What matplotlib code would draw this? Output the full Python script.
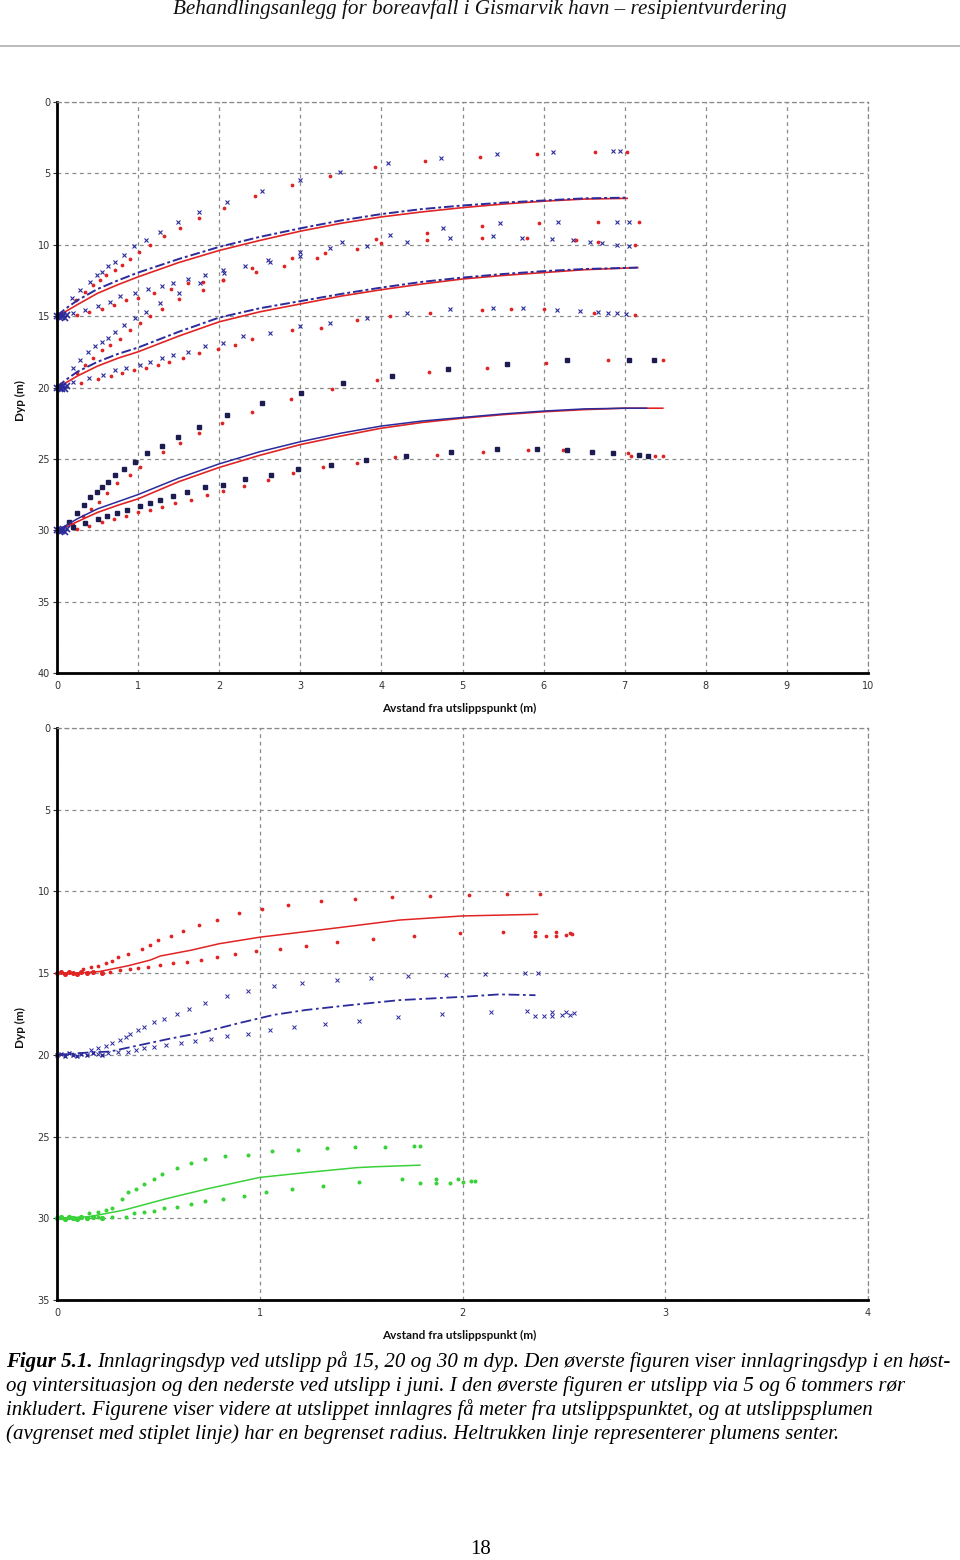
import matplotlib
matplotlib.use("Agg")
import matplotlib.pyplot as plt
from matplotlib.lines import Line2D
from matplotlib.ticker import MultipleLocator

# ---------------- data: top panel (autumn / winter), depth in m ----------------
# plume from 15 m
c15_x = [0, 0.1, 0.25, 0.5, 0.75, 1.0, 1.5, 2.0, 2.5, 3.0, 3.5, 4.0, 4.5, 5.0, 5.5, 6.0, 6.5, 7.03]
c15_blue = [15.0, 14.5, 13.9, 13.1, 12.5, 11.95, 11.0, 10.15, 9.45, 8.85, 8.3, 7.85, 7.5, 7.25, 7.05, 6.9, 6.75, 6.7]
c15_red = [15.0, 14.7, 14.2, 13.4, 12.8, 12.25, 11.25, 10.4, 9.7, 9.05, 8.5, 8.05, 7.7, 7.4, 7.15, 6.95, 6.8, 6.75]
u15_blue_x = [0.18, 0.28, 0.41, 0.49, 0.55, 0.63, 0.72, 0.83, 0.95, 1.1, 1.27, 1.49, 1.75, 2.1, 2.53, 3.0, 3.49, 4.08, 4.73, 5.43, 6.12, 6.86, 6.94]
u15_blue_d = [13.75, 13.2, 12.6, 12.1, 11.9, 11.5, 11.2, 10.7, 10.1, 9.7, 9.1, 8.4, 7.7, 7.0, 6.2, 5.46, 4.9, 4.27, 3.92, 3.64, 3.5, 3.43, 3.43]
u15_red_x = [0.24, 0.35, 0.45, 0.53, 0.61, 0.72, 0.8, 0.9, 1.01, 1.15, 1.32, 1.52, 1.75, 2.06, 2.44, 2.9, 3.37, 3.92, 4.54, 5.22, 5.92, 6.63, 7.03]
u15_red_d = [13.9, 13.3, 12.8, 12.5, 12.1, 11.8, 11.4, 11.0, 10.5, 10.0, 9.4, 8.8, 8.1, 7.4, 6.6, 5.8, 5.2, 4.55, 4.13, 3.85, 3.64, 3.5, 3.5]
l15_blue_x = [0.2, 0.35, 0.5, 0.65, 0.78, 0.96, 1.12, 1.29, 1.43, 1.62, 1.83, 2.05, 2.32, 2.6, 3.0, 3.37, 3.51, 4.1, 4.76, 5.46, 6.18, 6.9, 7.05]
l15_blue_d = [14.8, 14.6, 14.3, 14.0, 13.6, 13.4, 13.1, 12.9, 12.7, 12.4, 12.1, 11.8, 11.5, 11.1, 10.5, 10.2, 9.8, 9.3, 8.8, 8.5, 8.4, 8.4, 8.4]
l15_red_x = [0.25, 0.4, 0.55, 0.7, 0.85, 1.0, 1.2, 1.4, 1.62, 1.8, 2.05, 2.4, 2.9, 3.3, 3.93, 4.56, 5.24, 5.94, 6.67, 7.18]
l15_red_d = [14.9, 14.7, 14.5, 14.2, 13.9, 13.7, 13.4, 13.1, 12.7, 12.6, 12.5, 11.6, 10.9, 10.6, 9.6, 9.2, 8.7, 8.5, 8.4, 8.4]

# plume from 20 m
c20_x = [0, 0.1, 0.25, 0.5, 0.75, 1.0, 1.5, 2.0, 2.5, 3.0, 3.5, 4.0, 4.5, 5.0, 5.5, 6.0, 6.5, 7.16]
c20_blue = [20.0, 19.5, 18.9, 18.2, 17.65, 17.2, 16.1, 15.1, 14.45, 13.95, 13.45, 13.0, 12.6, 12.3, 12.05, 11.85, 11.7, 11.6]
c20_red = [20.0, 19.7, 19.2, 18.5, 17.95, 17.5, 16.4, 15.4, 14.7, 14.15, 13.6, 13.15, 12.75, 12.4, 12.15, 11.95, 11.75, 11.6]
u20_blue_x = [0.2, 0.28, 0.38, 0.47, 0.55, 0.63, 0.71, 0.82, 0.96, 1.1, 1.27, 1.5, 1.76, 2.06, 2.63, 3.0, 3.82, 4.31, 4.85, 5.37, 5.73, 6.1, 6.36, 6.57, 6.72, 6.9, 7.05]
u20_blue_d = [18.65, 18.1, 17.5, 17.1, 16.8, 16.5, 16.1, 15.6, 15.1, 14.7, 14.1, 13.4, 12.7, 12.0, 11.2, 10.8, 10.1, 9.8, 9.5, 9.4, 9.5, 9.6, 9.7, 9.8, 9.9, 10.0, 10.1]
u20_red_x = [0.25, 0.35, 0.45, 0.55, 0.65, 0.78, 0.9, 1.02, 1.15, 1.3, 1.5, 1.8, 2.05, 2.45, 2.8, 3.2, 3.7, 4.0, 4.56, 5.24, 5.8, 6.4, 6.67, 7.13]
u20_red_d = [19.0, 18.4, 17.9, 17.4, 17.0, 16.6, 16.0, 15.5, 15.0, 14.5, 13.8, 13.2, 12.5, 11.9, 11.5, 10.9, 10.3, 9.9, 9.7, 9.5, 9.5, 9.7, 9.8, 10.0]
l20_blue_x = [0.2, 0.4, 0.57, 0.71, 0.85, 1.02, 1.15, 1.29, 1.43, 1.62, 1.82, 2.05, 2.29, 2.63, 3.0, 3.37, 3.82, 4.31, 4.85, 5.37, 5.75, 6.16, 6.45, 6.67, 6.8, 6.9, 7.02]
l20_blue_d = [19.6, 19.3, 19.1, 18.8, 18.6, 18.4, 18.2, 17.9, 17.7, 17.5, 17.1, 16.9, 16.4, 16.2, 15.7, 15.5, 15.1, 14.8, 14.5, 14.4, 14.4, 14.6, 14.65, 14.7, 14.75, 14.8, 14.85]
l20_red_x = [0.3, 0.5, 0.66, 0.8, 0.95, 1.1, 1.24, 1.38, 1.55, 1.75, 1.98, 2.2, 2.4, 2.9, 3.25, 3.7, 4.1, 4.6, 5.24, 5.6, 6.0, 6.62, 7.13]
l20_red_d = [19.7, 19.4, 19.2, 19.0, 18.8, 18.6, 18.4, 18.2, 17.9, 17.6, 17.3, 17.0, 16.6, 16.0, 15.8, 15.3, 15.0, 14.8, 14.6, 14.5, 14.5, 14.8, 14.9]

# plume from 30 m
c30_blue_x = [0, 0.1, 0.25, 0.5, 0.75, 1.0, 1.5, 2.0, 2.5, 3.0, 3.5, 4.0, 4.5, 5.0, 5.5, 6.0, 6.5, 7.0, 7.27]
c30_blue = [30.0, 29.7, 29.2, 28.5, 28.0, 27.5, 26.35, 25.35, 24.5, 23.8, 23.2, 22.7, 22.35, 22.1, 21.85, 21.65, 21.5, 21.45, 21.45]
c30_red_x = [0, 0.1, 0.25, 0.5, 0.75, 1.0, 1.5, 2.0, 2.5, 3.0, 3.5, 4.0, 4.5, 5.0, 5.5, 6.0, 6.5, 7.0, 7.47]
c30_red = [30.0, 29.8, 29.4, 28.75, 28.25, 27.8, 26.6, 25.6, 24.75, 24.0, 23.4, 22.85, 22.45, 22.15, 21.9, 21.7, 21.55, 21.45, 21.45]
u30_blue_x = [0.15, 0.25, 0.33, 0.41, 0.49, 0.55, 0.63, 0.71, 0.82, 0.96, 1.11, 1.29, 1.49, 1.75, 2.1, 2.53, 3.01, 3.53, 4.13, 4.82, 5.55, 6.29, 7.05, 7.36]
u30_blue_d = [29.4, 28.8, 28.2, 27.7, 27.3, 27.0, 26.6, 26.1, 25.7, 25.2, 24.6, 24.1, 23.5, 22.8, 21.9, 21.1, 20.4, 19.7, 19.2, 18.7, 18.35, 18.1, 18.1, 18.1]
u30_red_x = [0.2, 0.32, 0.42, 0.52, 0.62, 0.74, 0.9, 1.02, 1.31, 1.52, 1.75, 2.03, 2.41, 2.88, 3.39, 3.94, 4.59, 5.3, 6.03, 6.79, 7.47]
u30_red_d = [29.6, 29.0, 28.5, 28.0, 27.4, 26.7, 26.1, 25.6, 24.5, 23.9, 23.2, 22.5, 21.7, 20.8, 20.1, 19.5, 18.9, 18.6, 18.3, 18.1, 18.1]
l30_blue_x = [0.2, 0.35, 0.5, 0.62, 0.74, 0.86, 1.02, 1.15, 1.27, 1.43, 1.6, 1.82, 2.05, 2.32, 2.64, 2.97, 3.38, 3.81, 4.3, 4.86, 5.43, 5.92, 6.29, 6.6, 6.86, 7.18, 7.29]
l30_blue_d = [29.8, 29.5, 29.2, 29.0, 28.8, 28.6, 28.3, 28.1, 27.9, 27.6, 27.3, 27.0, 26.8, 26.4, 26.1, 25.7, 25.4, 25.1, 24.8, 24.5, 24.3, 24.3, 24.4, 24.5, 24.6, 24.7, 24.8]
l30_red_x = [0.25, 0.4, 0.55, 0.7, 0.85, 1.0, 1.15, 1.3, 1.45, 1.65, 1.85, 2.05, 2.3, 2.6, 2.91, 3.28, 3.7, 4.17, 4.69, 5.25, 5.81, 6.24, 7.04, 7.08, 7.37, 7.47]
l30_red_d = [29.9, 29.7, 29.45, 29.2, 29.0, 28.75, 28.55, 28.35, 28.1, 27.85, 27.55, 27.25, 26.9, 26.5, 26.0, 25.6, 25.3, 24.9, 24.7, 24.5, 24.4, 24.4, 24.6, 24.8, 24.8, 24.8]

# cluster of points right at the outlet
outlet_x = [0.0, 0.02, 0.04, 0.06, 0.08, 0.1, 0.12]
outlet_dd = [0.0, 0.05, -0.05, 0.08, -0.08, 0.1, -0.1]
top_start_depths = [15, 20, 30]

# ---------------- data: bottom panel (June) ----------------
b15_c_x = [0, 0.1, 0.21, 0.35, 0.46, 0.51, 0.66, 0.8, 1.0, 1.2, 1.4, 1.69, 2.0, 2.37]
b15_c_d = [15.0, 15.0, 14.9, 14.55, 14.2, 13.95, 13.6, 13.2, 12.8, 12.5, 12.2, 11.75, 11.5, 11.4]
b15_u_x = [0.13, 0.17, 0.2, 0.24, 0.27, 0.3, 0.35, 0.42, 0.46, 0.5, 0.56, 0.62, 0.7, 0.79, 0.9, 1.01, 1.14, 1.3, 1.47, 1.65, 1.84, 2.03, 2.22, 2.38]
b15_u_d = [14.75, 14.6, 14.55, 14.4, 14.25, 14.0, 13.85, 13.5, 13.3, 13.0, 12.7, 12.4, 12.05, 11.75, 11.3, 11.1, 10.8, 10.6, 10.45, 10.35, 10.3, 10.2, 10.15, 10.15]
b15_l_x = [0.26, 0.31, 0.36, 0.4, 0.45, 0.51, 0.57, 0.64, 0.71, 0.79, 0.88, 0.98, 1.1, 1.23, 1.38, 1.56, 1.76, 1.99, 2.2, 2.36, 2.36, 2.41, 2.46, 2.46, 2.51, 2.53, 2.54]
b15_l_d = [14.9, 14.8, 14.75, 14.7, 14.6, 14.5, 14.35, 14.3, 14.2, 14.0, 13.85, 13.65, 13.5, 13.35, 13.1, 12.9, 12.7, 12.55, 12.5, 12.5, 12.75, 12.75, 12.5, 12.7, 12.65, 12.55, 12.6]

b20_c_x = [0, 0.16, 0.26, 0.41, 0.56, 0.71, 0.9, 1.07, 1.23, 1.45, 1.69, 2.0, 2.18, 2.36]
b20_c_d = [20.0, 19.85, 19.8, 19.4, 19.0, 18.65, 18.05, 17.55, 17.25, 16.95, 16.65, 16.45, 16.3, 16.35]
b20_u_x = [0.17, 0.2, 0.24, 0.27, 0.31, 0.34, 0.36, 0.4, 0.43, 0.48, 0.53, 0.59, 0.65, 0.73, 0.84, 0.94, 1.07, 1.21, 1.38, 1.55, 1.73, 1.92, 2.11, 2.31, 2.37]
b20_u_d = [19.7, 19.6, 19.44, 19.26, 19.1, 18.9, 18.7, 18.5, 18.3, 18.0, 17.8, 17.5, 17.2, 16.8, 16.4, 16.1, 15.8, 15.6, 15.4, 15.3, 15.2, 15.1, 15.07, 15.0, 15.0]
b20_l_x = [0.2, 0.25, 0.3, 0.35, 0.39, 0.43, 0.48, 0.54, 0.61, 0.68, 0.76, 0.84, 0.94, 1.05, 1.17, 1.32, 1.49, 1.68, 1.9, 2.14, 2.32, 2.36, 2.4, 2.44, 2.44, 2.49, 2.51, 2.53, 2.55]
b20_l_d = [19.95, 19.9, 19.85, 19.8, 19.7, 19.55, 19.5, 19.4, 19.25, 19.15, 19.0, 18.85, 18.7, 18.5, 18.3, 18.1, 17.9, 17.7, 17.5, 17.35, 17.3, 17.6, 17.6, 17.35, 17.6, 17.55, 17.35, 17.55, 17.45]

b30_c_x = [0, 0.16, 0.33, 0.54, 0.74, 1.0, 1.23, 1.48, 1.56, 1.79]
b30_c_d = [30.0, 29.9, 29.5, 28.8, 28.2, 27.5, 27.2, 26.9, 26.85, 26.75]
b30_u_x = [0.16, 0.2, 0.24, 0.27, 0.32, 0.35, 0.39, 0.43, 0.48, 0.52, 0.59, 0.66, 0.73, 0.83, 0.94, 1.06, 1.19, 1.33, 1.47, 1.62, 1.76, 1.79]
b30_u_d = [29.7, 29.6, 29.5, 29.4, 28.8, 28.4, 28.2, 27.9, 27.6, 27.3, 26.9, 26.6, 26.4, 26.2, 26.1, 25.9, 25.8, 25.7, 25.65, 25.65, 25.6, 25.6]
b30_l_x = [0.2, 0.27, 0.34, 0.38, 0.43, 0.48, 0.53, 0.59, 0.66, 0.73, 0.82, 0.92, 1.03, 1.16, 1.31, 1.49, 1.7, 1.79, 1.87, 1.87, 1.94, 1.98, 2.0, 2.04, 2.06]
b30_l_d = [29.95, 29.95, 29.9, 29.7, 29.6, 29.55, 29.4, 29.3, 29.15, 28.95, 28.8, 28.65, 28.4, 28.2, 28.0, 27.8, 27.6, 27.85, 27.6, 27.85, 27.85, 27.6, 27.75, 27.7, 27.7]

bot_outlet_x = [0.0, 0.02, 0.04, 0.06, 0.08, 0.1, 0.12, 0.15, 0.18, 0.22]
bot_outlet_dd = [0.0, -0.05, 0.05, -0.1, 0.0, 0.05, -0.05, 0.0, -0.1, 0.0]

header = "Behandlingsanlegg for boreavfall i Gismarvik havn – resipientvurdering"
caption_lines = [
    "og vintersituasjon og den nederste ved utslipp i juni. I den øverste figuren er utslipp via 5 og 6 tommers rør",
    "inkludert. Figurene viser videre at utslippet innlagres få meter fra utslippspunktet, og at utslippsplumen",
    "(avgrenset med stiplet linje) har en begrenset radius. Heltrukken linje representerer plumens senter.",
]
caption_first = "Innlagringsdyp ved utslipp på 15, 20 og 30 m dyp. Den øverste figuren viser innlagringsdyp i en høst-"

BLUE = "#2b2b9c"
NAVY = "#1c1c50"
RED = "#e02424"
GREEN = "#3ad13a"
GRID = "#8a8a8a"

W, H = 960, 1560
fig = plt.figure(figsize=(W / 100, H / 100), dpi=100)


def px_axes(x0, y0, x1, y1):
    return fig.add_axes([x0 / W, 1 - y1 / H, (x1 - x0) / W, (y1 - y0) / H])


def style(ax, xmax, ymax):
    ax.set_xlim(0, xmax)
    ax.set_ylim(ymax, 0)
    ax.xaxis.set_major_locator(MultipleLocator(1))
    ax.yaxis.set_major_locator(MultipleLocator(5))
    ax.grid(True, color=GRID, linestyle=(0, (3, 3)), linewidth=0.9)
    for s in ['top', 'right']:
        ax.spines[s].set_linestyle((0, (3, 3)))
        ax.spines[s].set_color(GRID)
        ax.spines[s].set_linewidth(0.9)
    for s in ['left', 'bottom']:
        ax.spines[s].set_linewidth(2.0)
        ax.spines[s].set_color('black')
    ax.tick_params(axis='both', labelsize=7, colors='#333333', length=3, width=0.8, pad=2)
    ax.tick_params(axis='x', length=0, pad=6)
    ax.set_axisbelow(True)


# ---------------- top panel ----------------
ax1 = px_axes(57, 102, 868, 673)
style(ax1, 10, 40)

mk_x = dict(linestyle='none', marker='x', markersize=3.0, markeredgewidth=0.8, color=BLUE)
mk_sq = dict(linestyle='none', marker='s', markersize=2.2, color=NAVY)
mk_r = dict(linestyle='none', marker='o', markersize=1.7, color=RED)
dash_b = dict(color=BLUE, linewidth=1.4, linestyle=(0, (5, 1.5, 1.5, 1.5)))
solid_r = dict(color=RED, linewidth=1.2)

ax1.plot(u15_blue_x, u15_blue_d, **mk_x)
ax1.plot(l15_blue_x, l15_blue_d, **mk_x)
ax1.plot(u15_red_x, u15_red_d, **mk_r)
ax1.plot(l15_red_x, l15_red_d, **mk_r)
ax1.plot(c15_x, c15_red, **solid_r)
ax1.plot(c15_x, c15_blue, **dash_b)

ax1.plot(u20_blue_x, u20_blue_d, **mk_x)
ax1.plot(l20_blue_x, l20_blue_d, **mk_x)
ax1.plot(u20_red_x, u20_red_d, **mk_r)
ax1.plot(l20_red_x, l20_red_d, **mk_r)
ax1.plot(c20_x, c20_red, **solid_r)
ax1.plot(c20_x, c20_blue, **dash_b)

ax1.plot(u30_red_x, u30_red_d, **mk_r)
ax1.plot(l30_red_x, l30_red_d, **mk_r)
ax1.plot(u30_blue_x, u30_blue_d, **mk_sq)
ax1.plot(l30_blue_x, l30_blue_d, **mk_sq)
ax1.plot(c30_red_x, c30_red, **solid_r)
ax1.plot(c30_blue_x, c30_blue, color=BLUE, linewidth=1.1)

for d0 in top_start_depths:
    ax1.plot(outlet_x, [d0 + v for v in outlet_dd], linestyle='none', marker='x',
             markersize=4, markeredgewidth=1.2, color=BLUE, clip_on=False)

# ---------------- bottom panel ----------------
ax2 = px_axes(57, 728, 868, 1300)
style(ax2, 4, 35)

mk_bx = dict(linestyle='none', marker='x', markersize=3.0, markeredgewidth=0.7, color=BLUE)
mk_br = dict(linestyle='none', marker='o', markersize=1.7, color=RED)
mk_bg = dict(linestyle='none', marker='o', markersize=1.9, color=GREEN)

ax2.plot(b15_u_x, b15_u_d, **mk_br)
ax2.plot(b15_l_x, b15_l_d, **mk_br)
ax2.plot(b15_c_x, b15_c_d, color=RED, linewidth=1.1)
ax2.plot(bot_outlet_x, [15 + v for v in bot_outlet_dd], linestyle='none', marker='o',
         markersize=2.6, color=RED, clip_on=False)

ax2.plot(b20_u_x, b20_u_d, **mk_bx)
ax2.plot(b20_l_x, b20_l_d, **mk_bx)
ax2.plot(b20_c_x, b20_c_d, color=BLUE, linewidth=1.3, linestyle=(0, (6, 2, 1.5, 2)))
ax2.plot(bot_outlet_x, [20 + v for v in bot_outlet_dd], linestyle='none', marker='x',
         markersize=3.2, markeredgewidth=1.0, color=BLUE, clip_on=False)

ax2.plot(b30_u_x, b30_u_d, **mk_bg)
ax2.plot(b30_l_x, b30_l_d, **mk_bg)
ax2.plot(b30_c_x, b30_c_d, color=GREEN, linewidth=1.1)
ax2.plot(bot_outlet_x, [30 + v for v in bot_outlet_dd], linestyle='none', marker='o',
         markersize=2.8, color=GREEN, clip_on=False)

# axis titles
lab = dict(family='Lato', fontweight='bold', fontsize=8.5, color='#111111')
fig.text(459 / W, 1 - 708 / H, "Avstand fra utslippspunkt (m)", ha='center', va='center', **lab)
fig.text(459 / W, 1 - 1335 / H, "Avstand fra utslippspunkt (m)", ha='center', va='center', **lab)
fig.text(20 / W, 1 - 401 / H, "Dyp (m)", ha='center', va='center', rotation=90, **lab)
fig.text(20 / W, 1 - 1028 / H, "Dyp (m)", ha='center', va='center', rotation=90, **lab)

# ---------------- page text ----------------
serif = 'Liberation Serif'
fig.text(0.5, 1 - 9 / H, header, ha='center', va='center', family=serif,
         style='italic', fontsize=15.2, color='#111111')
fig.add_artist(Line2D([0.0, 1.0], [1 - 46 / H, 1 - 46 / H], color='#b0b0b0', linewidth=1.2))

fig.text(6 / W, 1 - 1362 / H, "Figur 5.1.", ha='left', va='center', family=serif,
         style='italic', fontweight='bold', fontsize=15)
fig.text(97 / W, 1 - 1362 / H, caption_first, ha='left', va='center', family=serif,
         style='italic', fontsize=15.0)
for i, line in enumerate(caption_lines):
    fig.text(6 / W, 1 - (1386 + 24 * i) / H, line, ha='left', va='center', family=serif,
             style='italic', fontsize=15)

fig.text(481 / W, 1 - 1550 / H, "18", ha='center', va='center', family=serif, fontsize=15)

fig.savefig("out.png", dpi=100)
